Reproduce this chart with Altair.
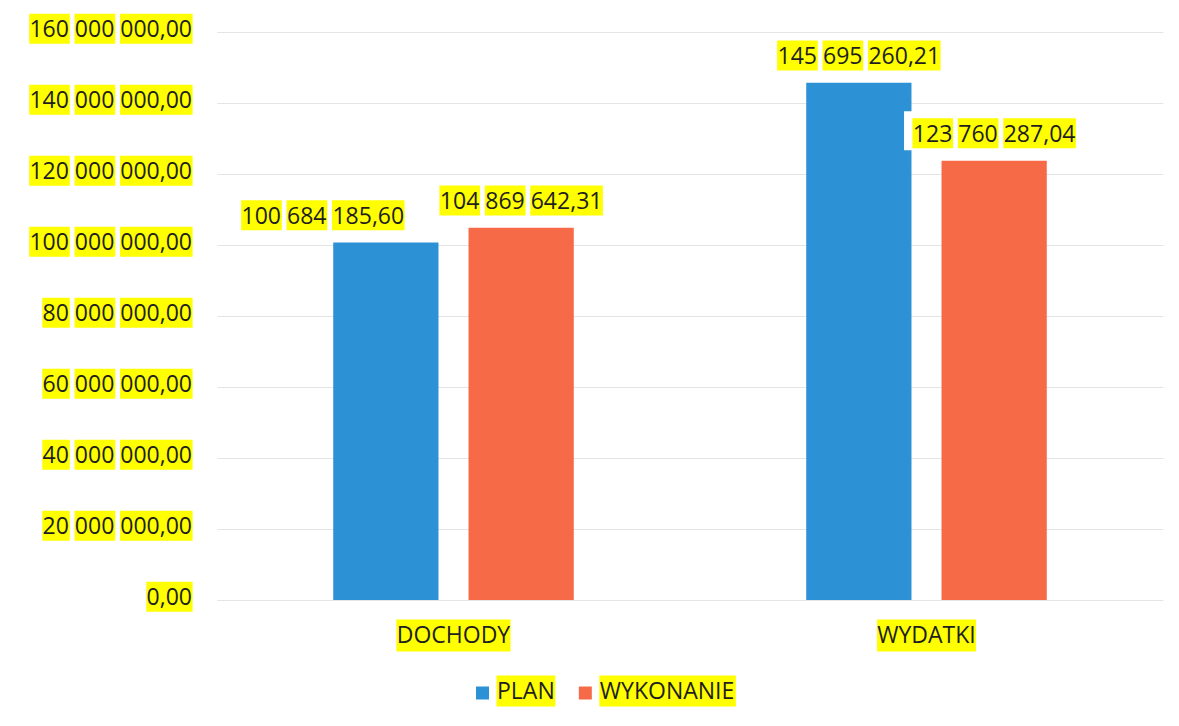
import altair as alt
import pandas as pd

# ---------------- data ----------------
categories = ["DOCHODY", "WYDATKI"]
series = ["PLAN", "WYKONANIE"]
plan_values = [100684185.60, 145695260.21]
wykonanie_values = [104869642.31, 123760287.04]
y_ticks = [0, 20000000, 40000000, 60000000, 80000000,
           100000000, 120000000, 140000000, 160000000]

# ---------------- style ----------------
colors = ["#2D91D5", "#F76A48"]
YELLOW = "#FFFF00"
TEXT = "#1E1E1E"
FONT = "Open Sans"
FS = 23
W, H = 946, 568
LABEL_DY = -26          # data label above bar top
LABEL_NUDGE = {("DOCHODY", "PLAN"): -63}   # manual label shift as in the original

# Open Sans advance widths (em)
EM = {" ": 0.2598, ",": 0.2451, ".": 0.266}
for d in "0123456789":
    EM[d] = 0.5718
EM.update({"A": 0.633, "C": 0.631, "D": 0.722, "E": 0.547, "H": 0.738,
           "I": 0.303, "K": 0.588, "L": 0.506, "N": 0.783, "O": 0.781,
           "P": 0.592, "T": 0.537, "W": 0.931, "Y": 0.544})


def tw(s):
    return sum(EM.get(c, 0.6) for c in s) * FS


def fmt_pl(v):
    return f"{v:,.2f}".replace(",", " ").replace(".", ",")


def box_path(label, align="center", dx=0.0, dy=0.0, pad=0.6, top=-16.3, h=30.0,
             per_word=True):
    total = tw(label)
    start = {"center": -total / 2, "right": -total, "left": 0.0}[align] + dx
    parts = []
    if per_word:
        cur = start
        for w in label.split(" "):
            ww = tw(w)
            parts.append(f"M{cur - pad:.2f},{top + dy:.2f}h{ww + 2 * pad:.2f}"
                         f"v{h:.2f}h{-(ww + 2 * pad):.2f}Z")
            cur += ww + tw(" ")
    else:
        parts.append(f"M{start - pad:.2f},{top + dy:.2f}h{total + 2 * pad:.2f}"
                     f"v{h:.2f}h{-(total + 2 * pad):.2f}Z")
    return "".join(parts)


# bars table
rows = []
for i, c in enumerate(categories):
    for s, vals in zip(series, [plan_values, wykonanie_values]):
        lab = fmt_pl(vals[i])
        nud = LABEL_NUDGE.get((c, s), 0)
        rows.append({"category": c, "series": s, "value": vals[i], "label": lab,
                     "nudge": nud,
                     "ypath": box_path(lab, "center", dx=nud, dy=LABEL_DY),
                     "wpath": box_path(lab, "center", dx=nud, dy=LABEL_DY, pad=9,
                                       top=-23.5, h=39, per_word=False)})
bars_df = pd.DataFrame(rows)

ticks_df = pd.DataFrame({"value": y_ticks,
                         "label": [fmt_pl(v) for v in y_ticks]})
ticks_df["ypath"] = [box_path(l, "right", dy=-2) for l in ticks_df["label"]]

cat_df = pd.DataFrame({"category": categories})
cat_df["ypath"] = [box_path(c, "center", pad=0.5, top=-16.5, h=32) for c in categories]

# ---------------- encodings ----------------
x_enc = alt.X("category:N", sort=categories,
              scale=alt.Scale(domain=categories, paddingInner=0, paddingOuter=0),
              axis=None)
xo_enc = alt.XOffset("series:N", sort=series,
                     scale=alt.Scale(domain=series, paddingInner=0.222, paddingOuter=0.859))
y_enc = alt.Y("value:Q",
              scale=alt.Scale(domain=[0, 160000000], nice=False, zero=True),
              axis=alt.Axis(values=y_ticks, labels=False, ticks=False, domain=False,
                            grid=True, gridColor="#E4E4E4", gridWidth=1, title=None))
color_enc = alt.Color("series:N", scale=alt.Scale(domain=series, range=colors), legend=None)

base = alt.Chart(bars_df)

bars = base.mark_bar().encode(x=x_enc, xOffset=xo_enc, y=y_enc, color=color_enc)

white_boxes = base.mark_point(filled=True, size=4, opacity=1, strokeWidth=0,
                              color="white").encode(
    x=x_enc, xOffset=xo_enc, y=alt.Y("value:Q"),
    shape=alt.Shape("wpath:N", scale=None, legend=None))

yellow_boxes = base.mark_point(filled=True, size=4, opacity=1, strokeWidth=0,
                               color=YELLOW).encode(
    x=x_enc, xOffset=xo_enc, y=alt.Y("value:Q"),
    shape=alt.Shape("ypath:N", scale=None, legend=None))

label_layers = []
for nud in sorted(set(bars_df["nudge"])):
    label_layers.append(
        base.transform_filter(alt.datum.nudge == nud).mark_text(
            font=FONT, fontSize=FS, color=TEXT, baseline="middle", align="center",
            dy=LABEL_DY, dx=nud).encode(
            x=x_enc, xOffset=xo_enc, y=alt.Y("value:Q"), text="label:N"))

# y-axis labels (custom, highlighted)
tick_base = alt.Chart(ticks_df)
tick_boxes = tick_base.mark_point(filled=True, size=4, opacity=1, strokeWidth=0,
                                  color=YELLOW).encode(
    x=alt.value(-25), y=alt.Y("value:Q"),
    shape=alt.Shape("ypath:N", scale=None, legend=None))
tick_text = tick_base.mark_text(font=FONT, fontSize=FS, color=TEXT, baseline="middle",
                                align="right", dy=-2).encode(
    x=alt.value(-25), y=alt.Y("value:Q"), text="label:N")

# category labels
cat_base = alt.Chart(cat_df)
cat_boxes = cat_base.mark_point(filled=True, size=4, opacity=1, strokeWidth=0,
                                color=YELLOW).encode(
    x=x_enc, y=alt.value(H + 36),
    shape=alt.Shape("ypath:N", scale=None, legend=None))
cat_text = cat_base.mark_text(font=FONT, fontSize=FS, color=TEXT, baseline="middle",
                              align="center").encode(
    x=x_enc, y=alt.value(H + 36), text="category:N")

# legend (custom, highlighted labels)
leg_layers = []
LEG_Y = H + 92
cur = 259.0
leg_df = pd.DataFrame({"series": series})
for s in series:
    sq_c = cur + 6.5
    tx = cur + 13 + 8
    one = alt.Chart(leg_df).transform_filter(alt.datum.series == s)
    leg_layers.append(one.mark_point(shape="square", filled=True, size=169, opacity=1,
                                     strokeWidth=0).encode(
        x=alt.value(sq_c), y=alt.value(LEG_Y + 1), color=color_enc))
    leg_layers.append(one.mark_point(shape=box_path(s, "left", pad=0.5, top=-16.5, h=31),
                                     filled=True, size=4, opacity=1, strokeWidth=0,
                                     color=YELLOW).encode(
        x=alt.value(tx), y=alt.value(LEG_Y)))
    leg_layers.append(one.mark_text(font=FONT, fontSize=FS, color=TEXT, baseline="middle",
                                    align="left").encode(
        x=alt.value(tx), y=alt.value(LEG_Y), text="series:N"))
    cur = tx + tw(s) + 24

chart = alt.layer(
    bars, white_boxes, yellow_boxes, *label_layers,
    tick_boxes, tick_text, cat_boxes, cat_text, *leg_layers
).properties(
    width=W, height=H,
    padding={"left": 209, "top": 24, "right": 8, "bottom": 118},
    autosize=alt.AutoSizeParams(type="none"),
).configure(background="white").configure_view(stroke=None, strokeWidth=0)

chart.save("out.html", embed_options={"renderer": "svg", "actions": False})
